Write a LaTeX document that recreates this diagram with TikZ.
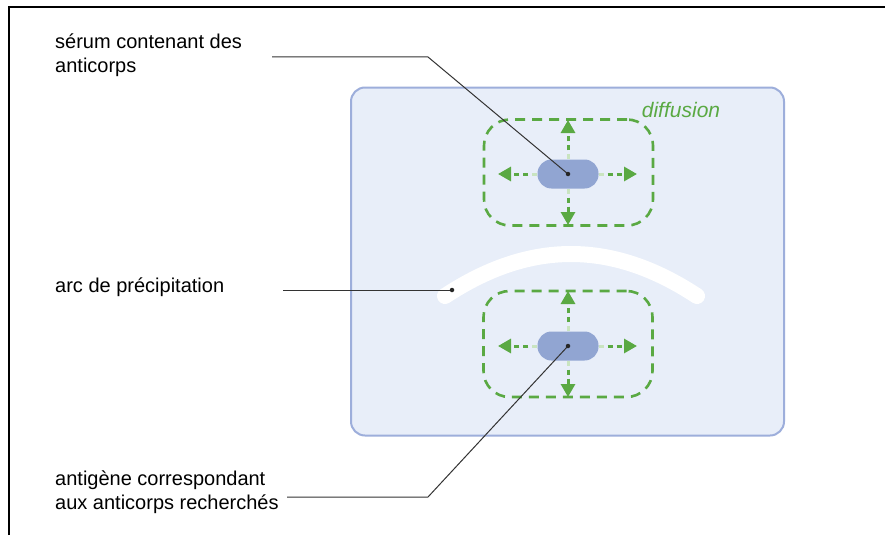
\documentclass[tikz,border=0pt]{standalone}
\usepackage{fontspec}
\setmainfont{Liberation Sans}
\usetikzlibrary{arrows.meta,calc}
\definecolor{platefill}{HTML}{E8EEF9}
\definecolor{plateedge}{HTML}{9DAEDB}
\definecolor{wellblue}{HTML}{91A5D2}
\definecolor{diffgreen}{HTML}{5AA943}
\definecolor{palegreen}{HTML}{C9E4C0}
\begin{document}
\begin{tikzpicture}[x=1pt,y=-1pt,
		well/.style={fill=wellblue,rounded corners=14pt,minimum width=61pt,minimum height=29pt,inner sep=0pt},
		zone/.style={draw=diffgreen,line width=2.6pt,dash pattern=on 10pt off 7pt,rounded corners=26pt,minimum width=169pt,minimum height=106pt},
		flow/.style={draw=diffgreen,line width=3pt,dash pattern=on 5pt off 4pt,-{Triangle[length=13pt,width=14pt]},shorten <=9pt},
		flowpale/.style={draw=palegreen,line width=3pt},
		leader/.style={draw=black!80,line width=1pt},
		dot/.style={circle,fill=black!85,inner sep=0pt,minimum size=4.5pt},
		note/.style={anchor=west,align=left,inner sep=0pt,font=\fontsize{20}{24}\selectfont}]
		\useasboundingbox (0,0) rectangle (885,535);
		\fill[white] (0,0) rectangle (885,535);
		\draw[line width=1.6pt] (9,535) -- (9,7) -- (885,7);
		% plate and precipitation arc
		\node[draw=plateedge,fill=platefill,line width=2pt,rounded corners=14pt,minimum width=433pt,minimum height=348pt] (plate) at (567.5,261.5) {};
		\draw[white,line width=16pt,line cap=round] (445,296) .. controls (530,240) and (612,240) .. (697,296);
		% wells and diffusion zones
		\node[zone] (zone1) at (568.5,172.5) {};
		\node[zone] (zone2) at (568,344) {};
		\node[well] (well1) at (568,174) {};
		\node[well] (well2) at (568,346) {};
		\coordinate (up1) at (568,120);
		\coordinate (down1) at (568,225);
		\coordinate (left1) at (498,174);
		\coordinate (right1) at (637,174);
		\coordinate (up2) at (568,291);
		\coordinate (down2) at (568,397);
		\coordinate (left2) at (498,346);
		\coordinate (right2) at (637,346);
		\draw[flowpale] (well1.north) -- ($(well1.north)!5pt!(up1)$);
		\draw[flowpale] (well1.south) -- ($(well1.south)!5pt!(down1)$);
		\draw[flowpale] (well1.west) -- ($(well1.west)!5pt!(left1)$);
		\draw[flowpale] (well1.east) -- ($(well1.east)!5pt!(right1)$);
		\draw[flowpale] (well2.north) -- ($(well2.north)!5pt!(up2)$);
		\draw[flowpale] (well2.south) -- ($(well2.south)!5pt!(down2)$);
		\draw[flowpale] (well2.west) -- ($(well2.west)!5pt!(left2)$);
		\draw[flowpale] (well2.east) -- ($(well2.east)!5pt!(right2)$);
		\draw[flow] (well1.north) -- (up1);
		\draw[flow] (well1.south) -- (down1);
		\draw[flow] (well1.west) -- (left1);
		\draw[flow] (well1.east) -- (right1);
		\draw[flow] (well2.north) -- (up2);
		\draw[flow] (well2.south) -- (down2);
		\draw[flow] (well2.west) -- (left2);
		\draw[flow] (well2.east) -- (right2);
		\node[text=diffgreen,font=\fontsize{21}{25}\selectfont\itshape] (diff) at (681,110) {diffusion};
		% labels and leaders
		\node[note] (serum) at (55,55) {sérum contenant des\\anticorps};
		\node[note] (arc) at (55,287) {arc de précipitation};
		\node[note] (antigen) at (55,492) {antigène correspondant\\aux anticorps recherchés};
		\coordinate (serumA) at (272,57);
		\coordinate (serumB) at (428,57);
		\coordinate (arcA) at (283,290);
		\coordinate (arcB) at (452,290);
		\coordinate (antigenA) at (287,497);
		\coordinate (antigenB) at (428,497);
		\draw[leader] (serumA) -- (serumB) -- (well1.center);
		\draw[leader] (arcA) -- (arcB);
		\draw[leader] (antigenA) -- (antigenB) -- (well2.center);
		\node[dot] (dot1) at (well1.center) {};
		\node[dot] (dot2) at (arcB) {};
		\node[dot] (dot3) at (well2.center) {};
	\end{tikzpicture}
\end{document}
